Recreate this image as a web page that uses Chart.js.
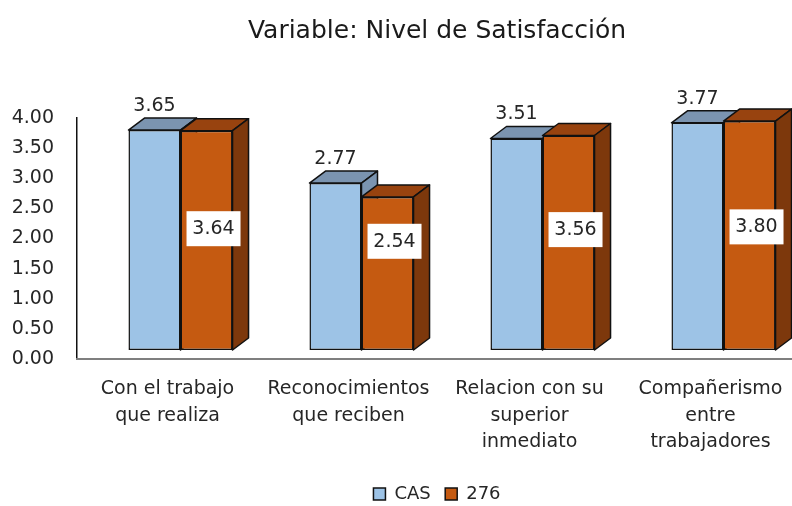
<!DOCTYPE html>
<html>
<head>
<meta charset="utf-8">
<script src="https://cdn.jsdelivr.net/npm/chart.js@4.4.1/dist/chart.umd.min.js"></script>
<style>
  html, body { margin: 0; padding: 0; background: #fff; overflow: hidden; }
  #wrap { width: 874px; height: 506px; }
</style>
</head>
<body>
<div id="wrap"><canvas id="sat-chart"></canvas></div>
<script>
// datos
var categorias = [
    ["Con el trabajo", "que realiza"],
    ["Reconocimientos", "que reciben"],
    ["Relacion con su", "superior", "inmediato"],
    ["Compañerismo", "entre", "trabajadores"]
];
var serieCAS = [3.65, 2.77, 3.51, 3.77];
var serie276 = [3.64, 2.54, 3.56, 3.80];
var ticksY = [0, 0.5, 1, 1.5, 2, 2.5, 3, 3.5, 4];

var FONT = "DejaVu Sans";
var DX = 16, DY = -12;      // profundidad 3D
var SHIFT_X = 13, SHIFT_Y = -9;

var caras = [
    { top: "#7b94b0", side: "#7b94b0" },
    { top: "#98430f", side: "#7d380c" }
];

// barras en 3D: tapas y lados de todas las series antes de los frentes
var bar3d = {
    id: "bar3d",
    beforeDatasetsDraw: function (chart) {
        var ctx = chart.ctx;
        ctx.save();
        ctx.translate(SHIFT_X, SHIFT_Y);
        ctx.lineWidth = 1.5;
        ctx.strokeStyle = "#111";
        ctx.lineJoin = "round";
        [0, 1].forEach(function (di) {
            var c = caras[di];
            chart.getDatasetMeta(di).data.forEach(function (b) {
                var l = b.x - b.width / 2, r = b.x + b.width / 2, t = b.y, bot = b.base;
                ctx.beginPath();
                ctx.moveTo(l, t);
                ctx.lineTo(l + DX, t + DY);
                ctx.lineTo(r + DX, t + DY);
                ctx.lineTo(r, t);
                ctx.closePath();
                ctx.fillStyle = c.top;
                ctx.fill();
                ctx.stroke();
                ctx.beginPath();
                ctx.moveTo(r, t);
                ctx.lineTo(r + DX, t + DY);
                ctx.lineTo(r + DX, bot + DY);
                ctx.lineTo(r, bot);
                ctx.closePath();
                ctx.fillStyle = c.side;
                ctx.fill();
                ctx.stroke();
            });
        });
    },
    afterDatasetsDraw: function (chart) {
        var ctx = chart.ctx;
        var y = chart.scales.y;
        ctx.font = "19px '" + FONT + "'";
        ctx.textAlign = "center";
        ctx.textBaseline = "middle";
        chart.getDatasetMeta(0).data.forEach(function (b, i) {
            ctx.fillStyle = "#262626";
            ctx.fillText(serieCAS[i].toFixed(2), b.x, b.y - 24);
        });
        chart.getDatasetMeta(1).data.forEach(function (b, i) {
            var v = serie276[i];
            var cx = b.x + 7;
            var cy = y.getPixelForValue(1.33 + 0.19 * v);
            ctx.fillStyle = "#fff";
            ctx.fillRect(cx - 27, cy - 17, 54, 35);
            ctx.fillStyle = "#262626";
            ctx.fillText(v.toFixed(2), cx, cy + 1);
        });
        ctx.restore();
    }
};

var ctx = document.getElementById("sat-chart").getContext("2d");
var chart = new Chart(ctx, {
    type: "bar",
    data: {
        labels: categorias,
        datasets: [{
                label: "CAS",
                data: serieCAS,
                backgroundColor: "#9dc3e6",
                borderColor: "#111",
                borderWidth: 1.5,
                borderSkipped: false,
                clip: false
            },
            {
                label: "276",
                data: serie276,
                backgroundColor: "#c55a11",
                borderColor: "#111",
                borderWidth: 1.5,
                borderSkipped: false,
                clip: false
            }
        ]
    },
    options: {
        responsive: true,
        maintainAspectRatio: false,
        animation: false,
        events: [],
        categoryPercentage: 0.575,
        barPercentage: 1,
        layout: { padding: { left: 0, right: 0, top: 8, bottom: -7 } },
        plugins: {
            title: {
                display: true,
                text: "Variable: Nivel de Satisfacción",
                color: "#1a1a1a",
                font: { family: FONT, size: 25, weight: "normal" },
                padding: { top: 8, bottom: 72 }
            },
            legend: {
                position: "bottom",
                labels: {
                    color: "#262626",
                    font: { family: FONT, size: 18, lineHeight: 1 },
                    boxWidth: 12,
                    boxHeight: 12,
                    padding: 3,
                    generateLabels: function (chart) {
                        var items = Chart.defaults.plugins.legend.labels.generateLabels(chart);
                        items[0].text = items[0].text + "  ";
                        return items;
                    }
                }
            },
            tooltip: { enabled: false }
        },
        scales: {
            y: {
                min: 0,
                max: 4,
                afterBuildTicks: function (s) {
                    s.ticks = ticksY.map(function (v) { return { value: v }; });
                },
                afterFit: function (s) { s.width = 77; },
                grid: { display: false },
                border: { display: true, color: "#111", width: 1.5 },
                ticks: {
                    color: "#262626",
                    font: { family: FONT, size: 19 },
                    padding: 15,
                    callback: function (v) { return Number(v).toFixed(2); }
                }
            },
            yDer: {
                position: "right",
                min: 0,
                max: 4,
                afterFit: function (s) { s.width = 73; },
                grid: { display: false },
                border: { display: false },
                ticks: { display: false }
            },
            x: {
                afterFit: function (s) { s.height = 123; },
                grid: { display: false },
                border: { display: true, color: "#7f7f7f", width: 2 },
                ticks: {
                    color: "#262626",
                    font: { family: FONT, size: 19, lineHeight: 1.4 },
                    padding: 9,
                    maxRotation: 0,
                    autoSkip: false
                }
            }
        }
    },
    plugins: [bar3d]
});
</script>
</body>
</html>
